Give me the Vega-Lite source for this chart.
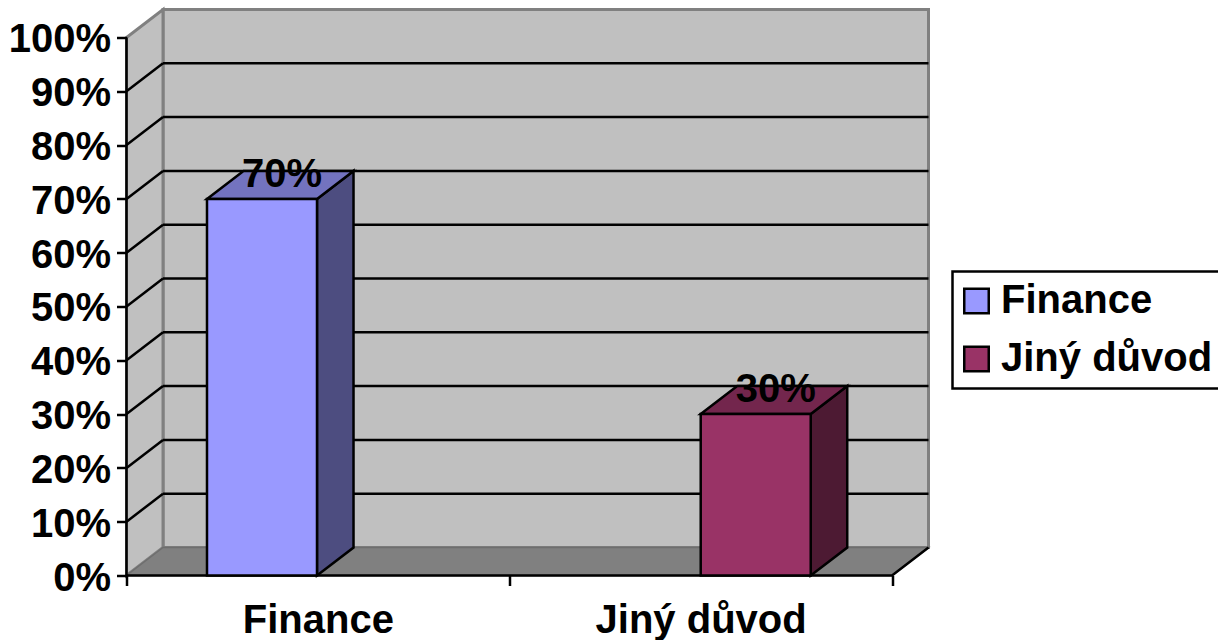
{
  "$schema": "https://vega.github.io/schema/vega-lite/v6.json",
  "autosize": {"type": "none"},
  "padding": {"left": 126.5, "top": 9.5, "right": 289.5, "bottom": 64.5},
  "width": 802,
  "height": 566,
  "background": "white",
  "view": {"stroke": null},
  "config": {
    "font": "Liberation Sans",
    "legend": {"strokeWidth": 2.5}
  },
  "datasets": {
    "bars": [
      {"category": "Finance", "start": 0.2103, "end": 0.4977, "middle": 0.354, "share": 0.7},
      {"category": "Jiný důvod", "start": 1.5002, "end": 1.7876, "middle": 1.6439, "share": 0.3}
    ],
    "sides": [
      {"category": "Finance", "x": 0.4977, "low": 0, "high": 0.7},
      {"category": "Finance", "x": 0.5931, "low": 0.052, "high": 0.752},
      {"category": "Jiný důvod", "x": 1.7876, "low": 0, "high": 0.3},
      {"category": "Jiný důvod", "x": 1.883, "low": 0.052, "high": 0.352}
    ],
    "tops": [
      {"category": "Finance", "y": 0.7, "left": 0.2103, "right": 0.4977},
      {"category": "Finance", "y": 0.752, "left": 0.3057, "right": 0.5931},
      {"category": "Jiný důvod", "y": 0.3, "left": 1.5002, "right": 1.7876},
      {"category": "Jiný důvod", "y": 0.352, "left": 1.5956, "right": 1.883}
    ],
    "gridlines": [
      {"level": 0.1, "back": 0.152},
      {"level": 0.2, "back": 0.252},
      {"level": 0.3, "back": 0.352},
      {"level": 0.4, "back": 0.452},
      {"level": 0.5, "back": 0.552},
      {"level": 0.6, "back": 0.652},
      {"level": 0.7, "back": 0.752},
      {"level": 0.8, "back": 0.852},
      {"level": 0.9, "back": 0.952}
    ]
  },
  "layer": [
    {
      "description": "Back wall",
      "data": {"values": [{"left": 0.0954, "right": 2.0953, "bottom": 0.052, "top": 1.052}]},
      "mark": {"type": "rect", "fill": "#c0c0c0", "stroke": "#808080", "strokeWidth": 3},
      "encoding": {
        "x": {
          "field": "left",
          "type": "quantitative",
          "scale": {"domain": [0, 2.0953], "nice": false, "zero": false},
          "axis": {
            "title": null,
            "domain": false,
            "grid": false,
            "values": [0, 0.5, 1, 1.5, 2],
            "tickColor": "black",
            "tickWidth": 2.5,
            "tickSize": 10,
            "tickOpacity": {"condition": {"test": "datum.value == 0.5 || datum.value == 1.5", "value": 0}, "value": 1},
            "labelExpr": "datum.value == 0.5 ? 'Finance' : datum.value == 1.5 ? 'Jiný důvod' : ''",
            "labelFontSize": 40,
            "labelFontWeight": "bold",
            "labelColor": "black",
            "labelPadding": 15,
            "labelLimit": 400,
            "labelOverlap": false,
            "labelBound": false,
            "labelFlush": false,
            "zindex": 1
          }
        },
        "x2": {"field": "right"},
        "y": {
          "field": "bottom",
          "type": "quantitative",
          "scale": {"domain": [0, 1.052], "nice": false, "zero": false},
          "axis": {
            "title": null,
            "domain": false,
            "grid": false,
            "values": [0, 0.1, 0.2, 0.3, 0.4, 0.5, 0.6, 0.7, 0.8, 0.9, 1],
            "format": ".0%",
            "tickColor": "black",
            "tickWidth": 2.5,
            "tickSize": 10,
            "labelFontSize": 40,
            "labelFontWeight": "bold",
            "labelColor": "black",
            "labelPadding": 6,
            "labelOffset": 2.5,
            "labelOverlap": false,
            "labelBound": false,
            "labelFlush": false,
            "zindex": 1
          }
        },
        "y2": {"field": "top"}
      }
    },
    {
      "description": "Left wall",
      "data": {"values": [{"x": 0, "low": 0, "high": 1}, {"x": 0.0954, "low": 0.052, "high": 1.052}]},
      "mark": {"type": "area", "orient": "vertical", "fill": "#c0c0c0", "stroke": "#808080", "strokeWidth": 3},
      "encoding": {
        "x": {"field": "x", "type": "quantitative"},
        "y": {"field": "low", "type": "quantitative", "stack": null},
        "y2": {"field": "high"}
      }
    },
    {
      "description": "Floor",
      "data": {"values": [{"y": 0, "left": 0, "right": 2}, {"y": 0.052, "left": 0.0954, "right": 2.0953}]},
      "mark": {"type": "area", "orient": "horizontal", "fill": "#808080", "stroke": "#6e6e6e", "strokeWidth": 1.5},
      "encoding": {
        "y": {"field": "y", "type": "quantitative"},
        "x": {"field": "left", "type": "quantitative", "stack": null},
        "x2": {"field": "right"}
      }
    },
    {
      "description": "Gridlines on the back wall",
      "data": {"name": "gridlines"},
      "mark": {"type": "rule", "color": "black", "strokeWidth": 2.5},
      "encoding": {
        "y": {"field": "back", "type": "quantitative"},
        "x": {"datum": 0.0954, "type": "quantitative"},
        "x2": {"datum": 2.0953}
      }
    },
    {
      "description": "Gridlines on the left wall",
      "data": {"name": "gridlines"},
      "mark": {"type": "rule", "color": "black", "strokeWidth": 2.5},
      "encoding": {
        "x": {"datum": 0, "type": "quantitative"},
        "x2": {"datum": 0.0954},
        "y": {"field": "level", "type": "quantitative"},
        "y2": {"field": "back"}
      }
    },
    {
      "description": "Value axis line",
      "data": {"values": [{"bottom": 0, "top": 1}]},
      "mark": {"type": "rule", "color": "black", "strokeWidth": 2.5},
      "encoding": {
        "x": {"datum": 0, "type": "quantitative"},
        "y": {"field": "bottom", "type": "quantitative"},
        "y2": {"field": "top"}
      }
    },
    {
      "description": "Category axis line and the floor's right edge",
      "data": {"values": [
        {"x": 0, "y": 0},
        {"x": 2, "y": 0},
        {"x": 2.0953, "y": 0.052}
      ]},
      "mark": {"type": "line", "color": "black", "strokeWidth": 2.5, "clip": false},
      "encoding": {
        "x": {"field": "x", "type": "quantitative", "sort": null},
        "y": {"field": "y", "type": "quantitative"}
      }
    },
    {
      "description": "Bar side faces",
      "data": {"name": "sides"},
      "mark": {"type": "area", "orient": "vertical", "stroke": "black", "strokeWidth": 2.5, "opacity": 1},
      "encoding": {
        "x": {"field": "x", "type": "quantitative"},
        "y": {"field": "low", "type": "quantitative", "stack": null},
        "y2": {"field": "high"},
        "color": {
          "field": "category",
          "type": "nominal",
          "scale": {"domain": ["Finance", "Jiný důvod"], "range": ["#4d4d80", "#4d1a33"]},
          "legend": null
        }
      }
    },
    {
      "description": "Bar top faces",
      "data": {"name": "tops"},
      "mark": {"type": "area", "orient": "horizontal", "stroke": "black", "strokeWidth": 2.5, "opacity": 1},
      "encoding": {
        "y": {"field": "y", "type": "quantitative"},
        "x": {"field": "left", "type": "quantitative", "stack": null},
        "x2": {"field": "right"},
        "color": {
          "field": "category",
          "type": "nominal",
          "scale": {"domain": ["Finance", "Jiný důvod"], "range": ["#7373bf", "#73264d"]},
          "legend": null
        }
      }
    },
    {
      "description": "Bar front faces, carrying the legend",
      "data": {"name": "bars"},
      "mark": {"type": "rect", "stroke": "black", "strokeWidth": 2.5, "opacity": 1},
      "encoding": {
        "x": {"field": "start", "type": "quantitative"},
        "x2": {"field": "end"},
        "y": {"field": "share", "type": "quantitative"},
        "y2": {"datum": 0},
        "color": {
          "field": "category",
          "type": "nominal",
          "scale": {"domain": ["Finance", "Jiný důvod"], "range": ["#9999ff", "#993366"]},
          "legend": {
            "title": null,
            "orient": "none",
            "legendX": 826,
            "legendY": 262,
            "fillColor": "white",
            "strokeColor": "black",
            "padding": 9.5,
            "symbolType": "square",
            "symbolSize": 600,
            "symbolStrokeColor": "black",
            "symbolStrokeWidth": 2.5,
            "symbolOpacity": 1,
            "symbolOffset": -5.5,
            "labelFontSize": 40,
            "labelFontWeight": "bold",
            "labelColor": "black",
            "labelOffset": 4.5,
            "rowPadding": 18,
            "labelLimit": 400
          }
        }
      }
    },
    {
      "description": "Value labels above the bars",
      "data": {"name": "bars"},
      "mark": {"type": "text", "fontSize": 40, "fontWeight": "bold", "color": "black", "baseline": "alphabetic", "xOffset": 20, "yOffset": -12},
      "encoding": {
        "x": {"field": "middle", "type": "quantitative"},
        "y": {"field": "share", "type": "quantitative"},
        "text": {"field": "share", "type": "quantitative", "format": ".0%"}
      }
    }
  ],
  "resolve": {"scale": {"color": "independent"}}
}
